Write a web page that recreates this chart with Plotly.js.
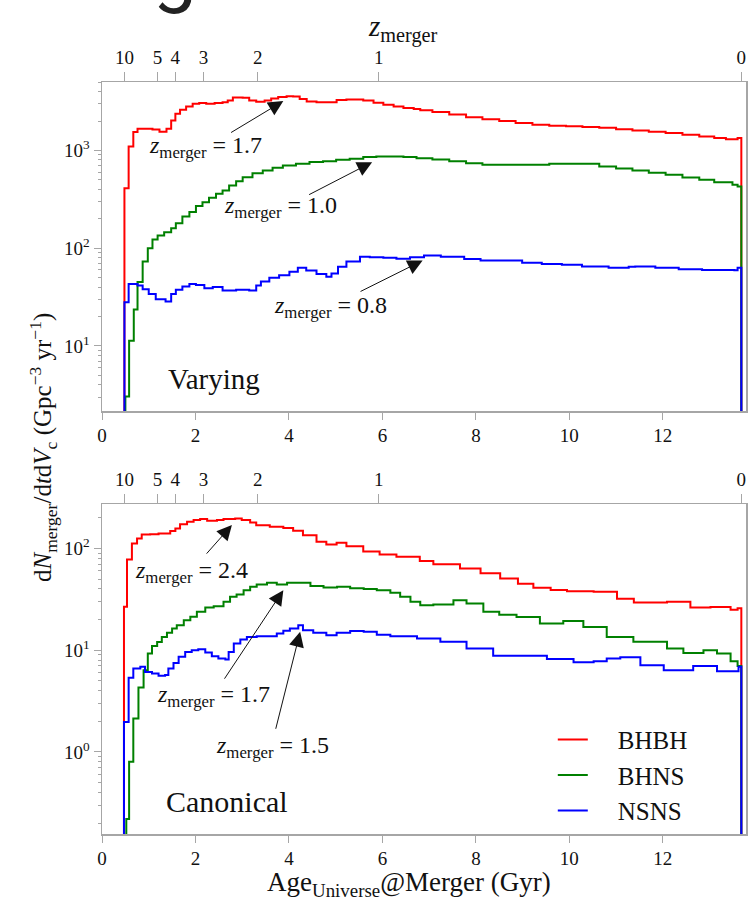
<!DOCTYPE html>
<html>
<head>
<meta charset="utf-8">
<script src="https://cdn.plot.ly/plotly-3.0.1.min.js"></script>
<style>
html,body{margin:0;padding:0;background:#fff;}
#chart{width:754px;height:899px;}
</style>
</head>
<body>
<div id="chart"></div>
<script>
// ---------- DATA ----------
// Redshift ticks of the top axis and the Universe age (Gyr) where each sits
const zTickLabels = ['10', '5', '4', '3', '2', '1', '0'];
const zTickAge = [0.48, 1.19, 1.57, 2.17, 3.33, 5.92, 13.68];

const seriesNames = ['BHBH', 'BHNS', 'NSNS'];
const seriesColors = ['#ff0000', '#008000', '#0000ff'];

// Varying panel (step edges in Gyr, rate in Gpc^-3 yr^-1)
const varyAgeBHBH = [0.40,0.48,0.57,0.67,0.76,1.08,1.23,1.38,1.48,1.57,1.67,1.80,1.94,2.08,2.23,2.41,2.58,2.69,2.80,3.01,3.15,3.30,3.48,3.62,3.77,3.95,4.09,4.23,4.38,4.59,4.84,5.02,5.23,5.45,5.59,5.81,6.02,6.24,6.45,6.67,6.81,7.07,7.43,7.79,8.14,8.50,8.85,9.21,9.57,9.93,10.28,10.64,11.00,11.35,11.70,12.06,12.42,12.78,13.10,13.35,13.60,13.68];
const varyRateBHBH = [0.001,410,1100,1540,1670,1640,1550,1670,2030,2370,2600,2820,3000,3050,3000,3060,3120,3250,3470,3450,3250,3150,3250,3400,3520,3590,3560,3350,3170,3120,3120,3280,3320,3320,3250,3080,2940,2820,2720,2650,2570,2470,2330,2190,2090,2000,1910,1830,1790,1770,1740,1710,1650,1600,1550,1510,1450,1390,1340,1300,1340,0.001];

const varyAgeBHNS = [0.40,0.50,0.58,0.68,0.76,0.87,0.98,1.08,1.19,1.33,1.48,1.58,1.72,1.87,2.01,2.15,2.29,2.44,2.58,2.72,2.87,3.01,3.22,3.44,3.65,3.87,4.15,4.44,4.73,5.01,5.30,5.59,5.87,6.16,6.45,6.73,7.07,7.43,7.79,8.14,8.50,9.21,9.57,10.28,10.64,11.00,11.35,11.70,12.06,12.42,12.78,13.10,13.49,13.60,13.68];
const varyRateBHNS = [0.001,3.05,11.3,23.6,45,73,100,123,135,146,160,180,211,234,270,296,328,360,390,438,485,533,586,624,665,702,731,760,777,802,822,855,869,865,855,832,809,775,741,713,713,713,731,731,685,655,624,593,563,530,500,472,446,427,0.001];

const varyAgeNSNS = [0.40,0.48,0.57,0.76,0.87,1.00,1.15,1.36,1.48,1.58,1.72,1.87,2.01,2.19,2.37,2.58,2.87,3.15,3.30,3.40,3.58,3.79,4.01,4.19,4.37,4.59,4.80,4.91,5.05,5.23,5.52,5.73,6.02,6.30,6.59,6.89,7.25,7.75,8.10,8.58,8.99,9.41,9.84,10.27,10.84,11.27,11.41,11.84,12.34,12.84,13.27,13.53,13.60,13.68];
const varyRateNSNS = [0.001,28,43,41.5,38,34,30,28.5,34,37.5,40.5,43,42,39,40,37,37.5,37,41.5,45.6,50,53,57.5,63,59,54.6,51,55,64.7,73,82,81,80,78,81,84,82,77.5,75,75,71,69,67.6,65,63,64.5,65,63,61,60,60,59.5,63,0.001];

// Canonical panel
const canonAgeBHBH = [0.40,0.47,0.535,0.64,0.75,0.85,1.03,1.21,1.35,1.46,1.57,1.67,1.82,1.96,2.10,2.25,2.46,2.60,2.74,2.85,2.99,3.17,3.30,3.59,3.88,4.09,4.30,4.59,4.80,5.02,5.23,5.59,5.94,6.30,6.80,7.09,7.66,8.10,8.52,8.90,9.23,9.60,9.95,10.52,11.02,11.38,12.09,12.59,13.02,13.45,13.60,13.68];
const canonRateBHBH = [0.001,26.7,78,112,125,137,138,140,140,148,157,173,183,190,194,187,190,194,194,197,190,180,169,163,159,149,135,116,109,113.5,105,93,87,83,75,70,63.6,57,50.7,45,41,39,38,37.5,32,29.4,29.9,26.3,26.6,25,25.8,0.001];

const canonAgeBHNS = [0.40,0.52,0.58,0.67,0.78,0.89,0.98,1.07,1.18,1.28,1.39,1.50,1.60,1.75,1.89,2.03,2.21,2.39,2.60,2.74,2.88,3.03,3.17,3.31,3.53,3.74,3.96,4.25,4.46,4.74,5.03,5.31,5.60,5.88,6.17,6.38,6.60,6.81,7.09,7.52,7.80,8.16,8.50,8.87,9.37,9.87,10.30,10.80,11.37,11.73,12.09,12.44,12.87,13.16,13.45,13.60,13.68];
const canonRateBHNS = [0.001,0.22,0.80,2.13,4.3,6.35,9.3,11,12,13.5,14.8,16.3,17.6,19.7,21.3,23.8,26.3,27,29.9,33.4,35.2,38.9,41.9,44.2,45.9,44.2,45.9,45.9,42.6,41.4,41.9,40.7,39.9,38.9,36.6,33.4,29.9,27.7,28.1,31,28.8,23.8,22.3,21.2,18.3,19.4,16.9,13.5,12.1,12.1,10.4,9.4,10,9.3,7.8,7.0,0.001];

const canonAgeNSNS = [0.40,0.47,0.57,0.67,0.82,0.92,1.07,1.21,1.35,1.42,1.53,1.64,1.78,1.92,2.06,2.21,2.35,2.49,2.64,2.71,2.82,2.96,3.10,3.31,3.60,3.74,3.88,4.02,4.20,4.30,4.52,4.80,5.02,5.31,5.60,5.88,6.17,6.45,6.74,7.24,7.80,8.37,9.02,9.52,10.09,10.52,10.80,11.09,11.52,12.02,12.65,13.16,13.52,13.62,13.68];
const canonRateNSNS = [0.001,1.97,5.35,6.6,6.86,6.1,5.9,5.6,5.7,6.6,7.5,8.6,9.6,10,10.2,9.5,8.7,8.3,8.1,9.6,11.6,12.7,13.5,13.7,13.7,14.6,15.5,16.3,17.6,15.7,14.8,14,14.8,15.4,15.2,14.2,13.7,13.7,13,12.1,10.4,8.8,8.8,8.2,7.6,7.8,8.3,8.5,7.1,6.35,7.0,6.2,6.2,6.86,0.001];

// Annotated peak redshifts
const varyPeakLabels = ['1.7', '1.0', '0.8'];
const canonPeakLabels = ['2.4', '1.7', '1.5'];
const panelLabels = ['Varying', 'Canonical'];

// ---------- FIGURE ----------
const SERIF = '"Liberation Serif", "Times New Roman", serif';
const AXC = '#a6a6a6';

const varyAges = [varyAgeBHBH, varyAgeBHNS, varyAgeNSNS];
const varyRates = [varyRateBHBH, varyRateBHNS, varyRateNSNS];
const canonAges = [canonAgeBHBH, canonAgeBHNS, canonAgeNSNS];
const canonRates = [canonRateBHBH, canonRateBHNS, canonRateNSNS];

const traces = [];
for (let i = 0; i < 3; i++) {
  traces.push({
    x: varyAges[i], y: varyRates[i], type: 'scatter', mode: 'lines',
    line: {shape: 'hv', color: seriesColors[i], width: 2},
    name: seriesNames[i], showlegend: false, xaxis: 'x', yaxis: 'y'
  });
}
for (let i = 0; i < 3; i++) {
  traces.push({
    x: canonAges[i], y: canonRates[i], type: 'scatter', mode: 'lines',
    line: {shape: 'hv', color: seriesColors[i], width: 2},
    name: '\u00a0\u00a0\u00a0\u00a0' + seriesNames[i], showlegend: true, xaxis: 'x2', yaxis: 'y2'
  });
}
// empty carriers so the top redshift axes are drawn
traces.push({x: [null], y: [null], type: 'scatter', mode: 'lines', xaxis: 'x3', yaxis: 'y', showlegend: false, hoverinfo: 'skip'});
traces.push({x: [null], y: [null], type: 'scatter', mode: 'lines', xaxis: 'x4', yaxis: 'y2', showlegend: false, hoverinfo: 'skip'});

// minor tick positions (2..9 within each decade) for the log axes
function minorVals(lo, hi) {
  const v = [];
  for (let e = lo; e <= hi; e++) for (let m = 2; m <= 9; m++) v.push(m * Math.pow(10, e));
  return v;
}
function majorVals(lo, hi) {
  const v = [], t = [];
  for (let e = lo; e <= hi; e++) { v.push(Math.pow(10, e)); t.push('10<sup>' + e + '</sup>'); }
  return [v, t];
}

const XR = [0, 13.78];
function bottomX(anchor) {
  return {
    range: XR, anchor: anchor, showline: true, linecolor: AXC, linewidth: 1.5, mirror: true,
    ticks: 'outside', ticklen: 7, tickcolor: AXC, tickwidth: 1,
    tickvals: [0, 2, 4, 6, 8, 10, 12], ticktext: ['0', '2', '4', '6', '8', '10', '12'],
    tickfont: {family: SERIF, size: 19, color: '#111'},
    showgrid: false, zeroline: false
  };
}
function topX(overlay, anchor) {
  return {
    range: XR, overlaying: overlay, anchor: anchor, side: 'top',
    showline: true, linecolor: AXC, linewidth: 1.5,
    ticks: 'outside', ticklen: 9, tickcolor: AXC, tickwidth: 1,
    tickmode: 'array', tickvals: zTickAge, ticktext: zTickLabels,
    tickfont: {family: SERIF, size: 19, color: '#111'},
    showgrid: false, zeroline: false
  };
}
function logY(domain, range, anchor, lo, hi) {
  const mj = majorVals(lo, hi);
  return {
    type: 'log', domain: domain, range: range, anchor: anchor,
    showline: true, linecolor: AXC, linewidth: 1.5, mirror: true,
    ticks: 'outside', ticklen: 7, tickcolor: AXC, tickwidth: 1,
    tickmode: 'array', tickvals: mj[0], ticktext: mj[1],
    minor: {ticks: 'outside', ticklen: 3, tickcolor: AXC, tickwidth: 1,
            tickmode: 'array', tickvals: minorVals(lo - 1, hi), showgrid: false},
    tickfont: {family: SERIF, size: 19, color: '#111'},
    showgrid: false, zeroline: false
  };
}

function arrow(xr, yr, x, y, ax, ay) {
  return {xref: xr, yref: yr, axref: xr, ayref: yr, x: x, y: y, ax: ax, ay: ay,
    text: '', showarrow: true, arrowhead: 2, arrowsize: 3, arrowwidth: 1, arrowcolor: '#111', standoff: 0};
}
function zlabel(xr, yr, x, y, val) {
  return {xref: xr, yref: yr, x: x, y: y, showarrow: false,
    text: '<i>z</i><sub>merger</sub> = ' + val,
    font: {family: SERIF, size: 24, color: '#111'}};
}

const annotations = [
  zlabel('x', 'y', 2.21, 3.04, varyPeakLabels[0]),
  arrow('x', 'y', 3.88, 3.505, 2.73, 3.174),
  zlabel('x', 'y', 3.81, 2.417, varyPeakLabels[1]),
  arrow('x', 'y', 5.78, 2.88, 4.40, 2.54),
  zlabel('x', 'y', 4.88, 1.403, varyPeakLabels[2]),
  arrow('x', 'y', 6.86, 1.874, 5.50, 1.55),
  {xref: 'x', yref: 'y', x: 2.40, y: 0.666, showarrow: false, text: panelLabels[0],
   font: {family: SERIF, size: 29, color: '#111'}},

  zlabel('x2', 'y2', 1.91, 1.767, canonPeakLabels[0]),
  arrow('x2', 'y2', 2.78, 2.229, 2.21, 1.934),
  zlabel('x2', 'y2', 2.38, 0.548, canonPeakLabels[1]),
  arrow('x2', 'y2', 3.88, 1.59, 2.60, 0.705),
  zlabel('x2', 'y2', 3.64, 0.046, canonPeakLabels[2]),
  arrow('x2', 'y2', 4.24, 1.18, 3.71, 0.213),
  {xref: 'x2', yref: 'y2', x: 2.68, y: -0.485, showarrow: false, text: panelLabels[1],
   font: {family: SERIF, size: 30, color: '#111'}},

  // axis titles
  {xref: 'paper', yref: 'paper', x: 0.467, y: 1.098, showarrow: false,
   text: '<i>z</i><sub>merger</sub>', font: {family: SERIF, size: 29, color: '#111'}},
  {xref: 'paper', yref: 'paper', x: 0.477, y: -0.092, showarrow: false,
   text: 'Age<sub>Universe</sub>@Merger (Gyr)', font: {family: SERIF, size: 27, color: '#111'}},
  {xref: 'paper', yref: 'paper', x: -0.1227, y: 0.5146, showarrow: false, textangle: -90,
   text: 'd<i>N</i><sub>merger</sub>/d<i>t</i>d<i>V</i><sub>c</sub> (Gpc<sup>\u22123</sup> yr<sup>\u22121</sup>)',
   font: {family: SERIF, size: 25, color: '#111'}},
  // cut-off large letter at the very top
  {xref: 'paper', yref: 'paper', x: 0.0764, y: 1.210, showarrow: false, text: 'g',
   font: {family: 'Roboto, sans-serif', size: 78, color: '#222'}}
];

const layout = {
  width: 754, height: 899,
  margin: {l: 102, r: 8, t: 82, b: 65},
  paper_bgcolor: '#fff', plot_bgcolor: '#fff',
  font: {family: SERIF, color: '#111'},
  xaxis: bottomX('y'),
  xaxis2: bottomX('y2'),
  xaxis3: topX('x', 'y'),
  xaxis4: topX('x2', 'y2'),
  yaxis: logY([0.5625, 1.0], [0.335, 3.70], 'x', 1, 3),
  yaxis2: logY([0, 0.4388], [-0.806, 2.436], 'x2', 0, 2),
  showlegend: true,
  legend: {x: 0.70, y: 0.156, xanchor: 'left', yanchor: 'top', bgcolor: 'rgba(0,0,0,0)',
           font: {family: SERIF, size: 25, color: '#111'}, tracegroupgap: 0},
  annotations: annotations
};

Plotly.newPlot('chart', traces, layout, {displayModeBar: false, staticPlot: true});
</script>
</body>
</html>
